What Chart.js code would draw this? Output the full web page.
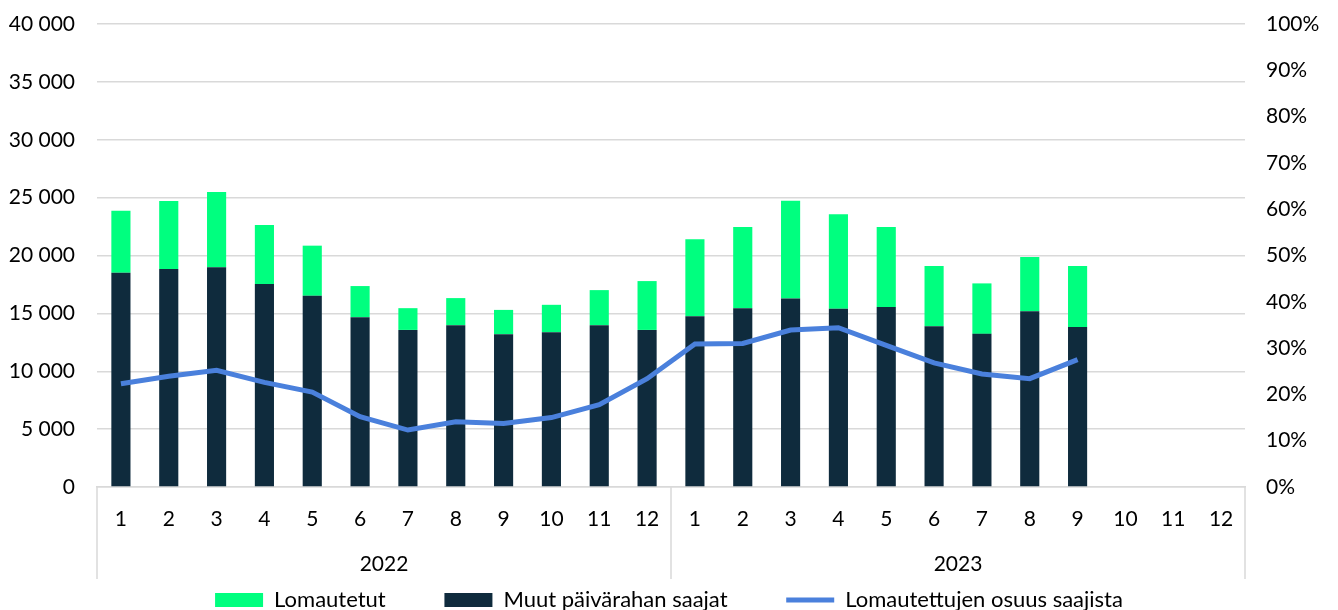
<!DOCTYPE html>
<html>
<head>
<meta charset="utf-8">
<script src="https://cdn.jsdelivr.net/npm/chart.js@4"></script>
<style>
  body { margin: 0; background: #fff; }
</style>
</head>
<body>
<canvas id="myChart" width="1338" height="610"></canvas>
<script>
// DATA

const kuukaudet = [
    '1', '2', '3', '4', '5', '6', '7', '8', '9', '10', '11', '12',
    '1', '2', '3', '4', '5', '6', '7', '8', '9', '10', '11', '12',
];

const vuodet = ['2022', '2023'];

const lomautetut = [
    5350, 5870, 6500, 5110, 4330, 2690, 1880, 2340, 2100, 2370, 3030, 4220,
    6640, 7020, 8430, 8180, 6930, 5200, 4360, 4680, 5260, null, null, null,
];

const muut = [
    18510, 18830, 18980, 17530, 16520, 14670, 13570, 13980, 13200, 13370, 13980, 13570,
    14760, 15450, 16290, 15390, 15540, 13890, 13230, 15190, 13830, null, null, null,
];

const osuus = [
    22.3, 23.9, 25.2, 22.6, 20.5, 15.2, 12.3, 14.1, 13.7, 15.0, 17.8, 23.4,
    30.9, 31.0, 33.9, 34.4, 30.6, 26.8, 24.4, 23.4, 27.5, null, null, null,
];

// FIN DATA

const fontti = { family: 'Lato', size: 21 };
const harmaa = '#d9d9d9';

// viivat vuosien väliin kategoria-akselin alle
const vuosiViivat = {
    id: 'vuosiViivat',
    afterDraw(chart) {
        const x = chart.scales.x;
        const x2 = chart.scales.x2;
        const askel = (x.right - x.left) / kuukaudet.length;
        const ctx = chart.ctx;
        ctx.save();
        ctx.strokeStyle = harmaa;
        ctx.lineWidth = 1.5;
        [0, 12, 24].forEach(i => {
            const px = x.left + i * askel;
            ctx.beginPath();
            ctx.moveTo(px, chart.chartArea.bottom);
            ctx.lineTo(px, x2.bottom - 2);
            ctx.stroke();
        });
        ctx.restore();
    }
};

const data = {
    labels: kuukaudet,
    datasets: [
        {
            label: 'Muut päivärahan saajat',
            data: muut,
            backgroundColor: '#0f2b3d',
            stack: 'a',
            yAxisID: 'y',
            categoryPercentage: 1,
            barPercentage: 0.4,
            pointStyle: 'rect',
            order: 1,
        },
        {
            label: 'Lomautetut',
            data: lomautetut,
            backgroundColor: '#00ff7f',
            stack: 'a',
            yAxisID: 'y',
            categoryPercentage: 1,
            barPercentage: 0.4,
            pointStyle: 'rect',
            order: 1,
        },
        {
            type: 'line',
            label: 'Lomautettujen osuus saajista',
            data: osuus,
            borderColor: '#4a80dc',
            backgroundColor: '#4a80dc',
            borderWidth: 5,
            pointRadius: 0,
            tension: 0,
            yAxisID: 'y2',
            pointStyle: 'line',
            order: 0,
        },
    ]
};

const jarjestys = { 1: 0, 0: 1, 2: 2 };
const vali = '         ';

const config = {
    type: 'bar',
    data: data,
    options: {
        responsive: false,
        animation: false,
        layout: { padding: { top: 24, left: 0, right: 0, bottom: -11 } },
        plugins: {
            legend: {
                position: 'bottom',
                labels: {
                    font: { family: 'Lato', size: 22 },
                    color: '#000',
                    usePointStyle: true,
                    pointStyleWidth: 48,
                    boxHeight: 14,
                    padding: 8,
                    sort: (a, b) => jarjestys[a.datasetIndex] - jarjestys[b.datasetIndex],
                    generateLabels: (chart) => {
                        const items = Chart.defaults.plugins.legend.labels.generateLabels(chart);
                        items.forEach(it => {
                            if (it.datasetIndex !== 2) it.text = it.text + vali;
                        });
                        return items;
                    }
                }
            },
            tooltip: { enabled: false }
        },
        scales: {
            x: {
                stacked: true,
                grid: { display: false },
                border: { display: true, color: harmaa, width: 1.5 },
                ticks: { font: fontti, color: '#000', padding: 12, maxRotation: 0, autoSkip: false },
                afterFit: (s) => { s.height = 54; }
            },
            x2: {
                type: 'category',
                labels: vuodet,
                position: 'bottom',
                offset: true,
                grid: { display: false },
                border: { display: false },
                ticks: { font: fontti, color: '#000', padding: 3 },
                afterFit: (s) => { s.height = 40; }
            },
            y: {
                stacked: true,
                min: 0,
                max: 40000,
                ticks: {
                    stepSize: 5000,
                    font: fontti,
                    color: '#000',
                    padding: 22,
                    callback: (v) => String(v).replace(/\B(?=(\d{3})+(?!\d))/g, ' ')
                },
                grid: { color: harmaa, lineWidth: 1.5, drawTicks: false },
                border: { display: false },
                afterFit: (s) => { s.width = 97; s.paddingTop = 12; s.paddingBottom = 12; }
            },
            y2: {
                position: 'right',
                min: 0,
                max: 100,
                ticks: {
                    stepSize: 10,
                    font: fontti,
                    color: '#000',
                    padding: 21,
                    callback: (v) => v + '%'
                },
                grid: { display: false, drawTicks: false },
                border: { display: false },
                afterFit: (s) => { s.width = 93; s.paddingTop = 12; s.paddingBottom = 12; }
            }
        }
    },
    plugins: [vuosiViivat]
};

const myChart = new Chart(
    document.getElementById('myChart'),
    config
);
</script>
</body>
</html>
